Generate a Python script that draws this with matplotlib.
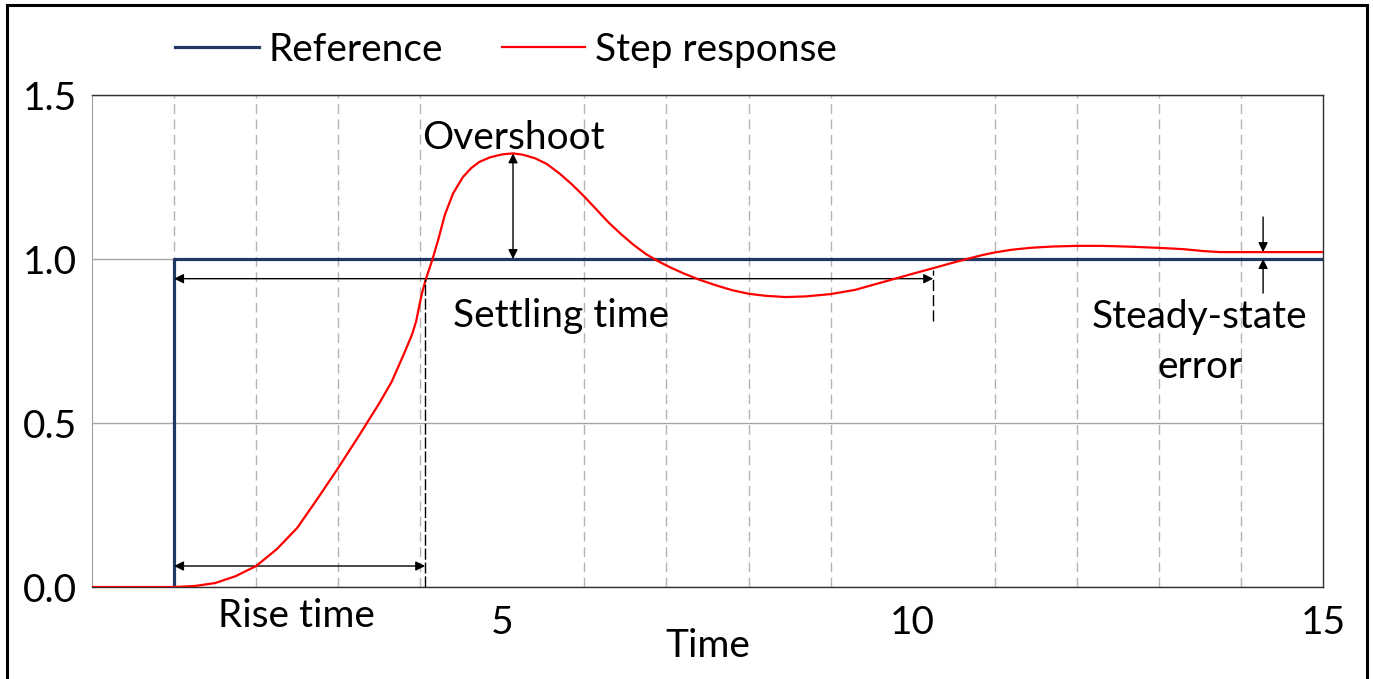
import numpy as np
import matplotlib.pyplot as plt
from matplotlib.patches import Rectangle

plt.rcParams['font.family'] = ['Lato', 'DejaVu Sans']
FS = 28

# step response read point by point
t = [0, 1.0, 1.25, 1.5, 1.75, 2.0, 2.25, 2.5, 2.75, 3.0, 3.25, 3.5, 3.65,
     3.8, 3.9, 3.95, 3.99, 4.02, 4.07, 4.15, 4.22, 4.3, 4.4, 4.52, 4.62,
     4.72, 4.85, 5.0, 5.13, 5.25, 5.4, 5.54, 5.7, 5.85, 6.0, 6.15, 6.3,
     6.45, 6.6, 6.75, 6.9, 7.05, 7.2, 7.4, 7.6, 7.8, 8.0, 8.2, 8.45, 8.7,
     9.0, 9.3, 9.6, 10.0, 10.25, 10.45, 10.66, 10.85, 11.0, 11.2, 11.43,
     11.7, 12.0, 12.3, 12.6, 13.0, 13.3, 13.55, 13.75, 14.0, 15.0]
y = [0, 0, 0.003, 0.012, 0.033, 0.064, 0.115, 0.18, 0.27, 0.363, 0.46,
     0.56, 0.625, 0.71, 0.77, 0.81, 0.86, 0.895, 0.94, 1.0, 1.06, 1.135,
     1.2, 1.25, 1.277, 1.296, 1.31, 1.319, 1.322, 1.318, 1.307, 1.29, 1.26,
     1.227, 1.19, 1.15, 1.11, 1.075, 1.043, 1.015, 0.993, 0.974, 0.957,
     0.937, 0.92, 0.905, 0.894, 0.888, 0.884, 0.886, 0.893, 0.906, 0.927,
     0.955, 0.972, 0.986, 1.0, 1.012, 1.02, 1.028, 1.034, 1.038, 1.04,
     1.04, 1.038, 1.034, 1.03, 1.024, 1.021, 1.021, 1.021]

# reference step
t_ref = [1, 1, 15]
y_ref = [0, 1, 1]

rise_end = 4.06
rise_level = 0.064
settle_end = 10.25
settle_level = 0.94
sse_t = 14.27

navy = '#1f3864'
red = '#ff0000'

fig = plt.figure(figsize=(13.73, 6.79), dpi=100)
ax = fig.add_axes([92 / 1373, 92 / 679, 1231 / 1373, 492 / 679])

ax.plot(t_ref, y_ref, color=navy, lw=2.3, label='Reference', zorder=3)
ax.plot(t, y, color=red, lw=1.6, label='Step response', zorder=4,
        solid_joinstyle='round')

ax.set_xlim(0, 15)
ax.set_ylim(0, 1.5)
ax.set_xticks([5, 10, 15])
ax.set_xticks(range(1, 15), minor=True)
ax.set_yticks([0, 0.5, 1.0, 1.5])
ax.set_yticklabels(['0.0', '0.5', '1.0', '1.5'])
ax.tick_params(which='both', length=0, labelsize=FS)
ax.tick_params(axis='x', pad=13)
ax.tick_params(axis='y', pad=11)
ax.grid(which='minor', axis='x', color='#b4b4b4', ls=(0, (7, 4)), lw=1.0)
ax.grid(which='major', axis='y', color='#a6a6a6', ls='-', lw=1.0)
ax.set_axisbelow(True)
for s in ['top', 'right', 'bottom']:
    ax.spines[s].set_color('#303030')
    ax.spines[s].set_linewidth(1.0)
ax.spines['left'].set_color('#a0a0a0')

ax.set_xlabel('Time', fontsize=FS)
ax.xaxis.set_label_coords(0.5, -(657 - 587) / 492)
ax.xaxis.label.set_va('baseline')

arrow = dict(color='black', lw=1.0, mutation_scale=14, shrinkA=0, shrinkB=0)
dbl = dict(arrow, arrowstyle='<|-|>')
one = dict(arrow, arrowstyle='-|>')

peak = max(y)
peak_t = t[y.index(peak)]
final = y[-1]

# rise time
ax.annotate('', xy=(rise_end, rise_level), xytext=(1, rise_level), arrowprops=dbl)
ax.plot([rise_end, rise_end], [0, settle_level], color='black', lw=1.0,
        ls=(0, (8, 2)), zorder=5)
ax.text(2.49, -0.121, 'Rise time', fontsize=FS, ha='center', va='baseline')

# settling time
ax.annotate('', xy=(settle_end, settle_level), xytext=(1, settle_level), arrowprops=dbl)
ax.plot([settle_end, settle_end], [0.81, 0.965], color='black', lw=1.0,
        ls=(0, (8, 3)), zorder=5)
ax.text(5.72, 0.793, 'Settling time', fontsize=FS, ha='center', va='baseline')

# overshoot
ax.annotate('', xy=(peak_t, peak), xytext=(peak_t, 1.0), arrowprops=dbl)
ax.text(5.13, 1.335, 'Overshoot', fontsize=FS, ha='center', va='baseline')

# steady-state error
ax.annotate('', xy=(sse_t, final), xytext=(sse_t, 1.128), arrowprops=one)
ax.annotate('', xy=(sse_t, 1.0), xytext=(sse_t, 0.896), arrowprops=one)
ax.text(13.5, 0.79, 'Steady-state', fontsize=FS, ha='center', va='baseline')
ax.text(13.5, 0.637, 'error', fontsize=FS, ha='center', va='baseline')

ax.legend(loc='center left', bbox_to_anchor=(175 / 1373, 1 - 50 / 679),
          bbox_transform=fig.transFigure, ncol=2, frameon=False, fontsize=FS,
          handlelength=2.15, handletextpad=0.26, columnspacing=1.5,
          borderpad=0, borderaxespad=0)

# outer frame
fig.patches.append(Rectangle((7 / 1373, -0.05), 1360 / 1373, 1.05 - 5 / 679,
                             transform=fig.transFigure, fill=False,
                             edgecolor='black', lw=2.2))

fig.savefig('out.png', dpi=100)
